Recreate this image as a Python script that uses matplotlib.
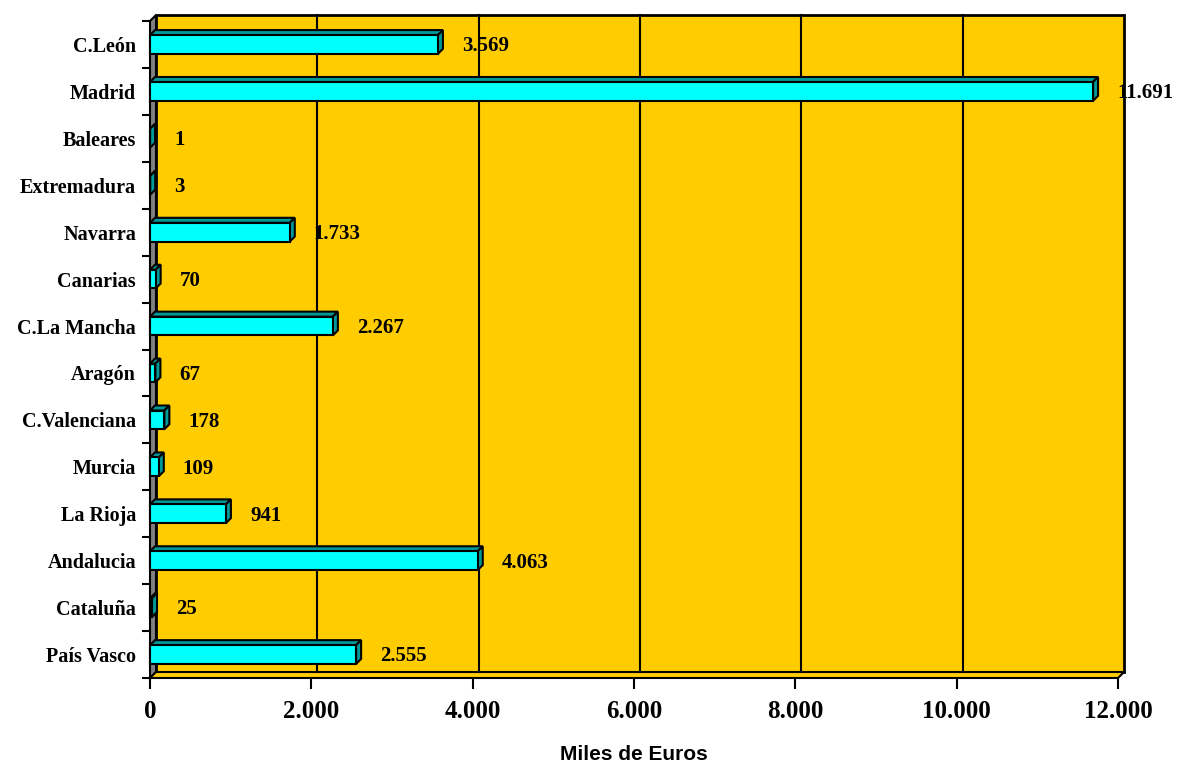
import matplotlib
matplotlib.use("Agg")
import matplotlib.pyplot as plt
from matplotlib.patches import Polygon, Rectangle

# data (top to bottom as drawn)
regions = ["C.León", "Madrid", "Baleares", "Extremadura", "Navarra", "Canarias",
           "C.La Mancha", "Aragón", "C.Valenciana", "Murcia", "La Rioja",
           "Andalucia", "Cataluña", "País Vasco"]
values = [3569, 11691, 1, 3, 1733, 70, 2267, 67, 178, 109, 941, 4063, 25, 2555]
value_labels = ["3.569", "11.691", "1", "3", "1.733", "70", "2.267", "67",
                "178", "109", "941", "4.063", "25", "2.555"]
x_ticks = [0, 2000, 4000, 6000, 8000, 10000, 12000]
x_tick_labels = ["0", "2.000", "4.000", "6.000", "8.000", "10.000", "12.000"]

W, H, DPI = 1185, 772, 100
YELLOW = "#FFCC00"
CYAN = "#00FFFF"
TEAL = "#009999"
GREY = "#808080"
SERIF = "Liberation Serif"

fig = plt.figure(figsize=(W / DPI, H / DPI), dpi=DPI)
# front plane in pixels
left, right, top, bottom = 150, 1118, 21, 678
ax = fig.add_axes([left / W, 1 - bottom / H, (right - left) / W, (bottom - top) / H])

n = len(regions)
xmax = 12000
ax.set_xlim(0, xmax)
ax.set_ylim(n - 0.5, -0.5)
ax.patch.set_visible(False)
for s in ax.spines.values():
    s.set_visible(False)

# pixel -> data conversion for the fake 3D depth
px_x = (right - left) / xmax
px_y = (bottom - top) / n
depth = 6
ddx = depth / px_x
ddy = -depth / px_y
bd = 5
bdx = bd / px_x
bdy = -bd / px_y

y0, y1 = n - 0.5, -0.5

# back wall
ax.add_patch(Rectangle((ddx, y0 + ddy), xmax, y1 - y0, facecolor=YELLOW,
                       edgecolor="black", lw=2, zorder=0, clip_on=False))
for t in x_ticks[1:-1]:
    ax.plot([t + ddx, t + ddx], [y0 + ddy, y1 + ddy], color="black", lw=1.5,
            zorder=0.5, clip_on=False)

# left wall
ax.add_patch(Polygon([(0, y0), (0, y1), (ddx, y1 + ddy), (ddx, y0 + ddy)],
                     closed=True, facecolor=GREY, edgecolor="black", lw=1.5,
                     zorder=1, clip_on=False))
# floor
ax.add_patch(Polygon([(0, y0), (xmax, y0), (xmax + ddx, y0 + ddy), (ddx, y0 + ddy)],
                     closed=True, facecolor=YELLOW, edgecolor="black", lw=1.5,
                     zorder=1, clip_on=False))

# bars
h = 0.2
for i, (v, lab) in enumerate(zip(values, value_labels)):
    yt, yb = i - h, i + h
    ax.add_patch(Polygon([(0, yt), (v, yt), (v + bdx, yt + bdy), (bdx, yt + bdy)],
                         closed=True, facecolor=TEAL, edgecolor="black", lw=1.5,
                         zorder=3, clip_on=False))
    ax.add_patch(Polygon([(v, yt), (v, yb), (v + bdx, yb + bdy), (v + bdx, yt + bdy)],
                         closed=True, facecolor=TEAL, edgecolor="black", lw=1.5,
                         zorder=3, clip_on=False))
    ax.add_patch(Rectangle((0, yt), v, yb - yt, facecolor=CYAN, edgecolor="black",
                           lw=1.5, zorder=4, clip_on=False))
    ax.text(v + 24 / px_x, i + 0.04, lab, fontsize=15, fontweight="bold", family=SERIF,
            ha="left", va="center", zorder=5)

# ticks
ax.set_xticks(x_ticks)
ax.set_xticklabels(x_tick_labels, fontsize=18, fontweight="bold", family=SERIF)
ax.tick_params(axis="x", length=8, width=1.5, pad=8)
ax.set_yticks(range(n))
ax.set_yticklabels(regions, fontsize=14.5, fontweight="bold", family=SERIF)
ax.set_yticks([i - 0.5 for i in range(n + 1)], minor=True)
ax.tick_params(axis="y", which="major", length=0, pad=10)
ax.tick_params(axis="y", which="minor", length=6, width=1.5)
ax.set_xlabel("Miles de Euros", fontsize=15, fontweight="bold",
              family="Liberation Sans", labelpad=16)

fig.savefig("out.png", dpi=DPI)
